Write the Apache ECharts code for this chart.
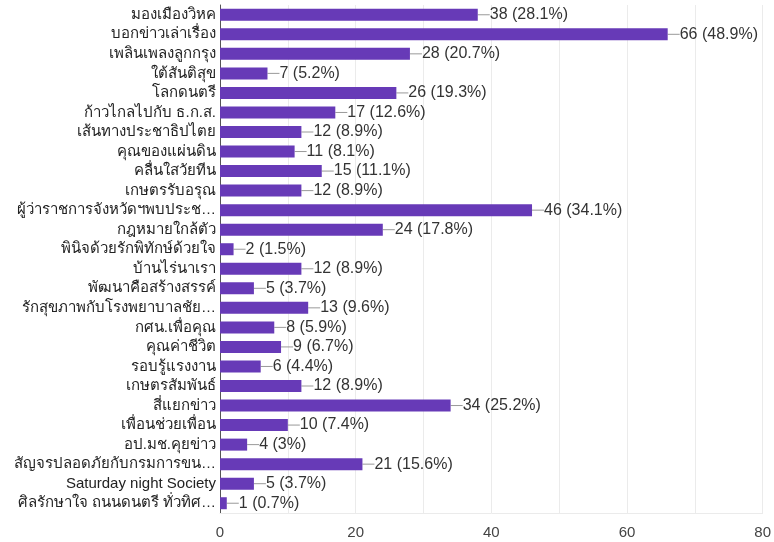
<!DOCTYPE html>
<html><head><meta charset="utf-8">
<script src="https://cdn.jsdelivr.net/npm/echarts@6/dist/echarts.min.js"></script>
<style>html,body{margin:0;padding:0;background:#fff}#c{width:774px;height:542px}</style>
</head><body><div id="c"></div>
<script>
const categories = ["มองเมืองวิหค","บอกข่าวเล่าเรื่อง","เพลินเพลงลูกกรุง","ใต้สันติสุข","โลกดนตรี","ก้าวไกลไปกับ ธ.ก.ส.","เส้นทางประชาธิปไตย","คุณของแผ่นดิน","คลื่นใสวัยทีน","เกษตรรับอรุณ","ผู้ว่าราชการจังหวัดฯพบประช…","กฎหมายใกล้ตัว","พินิจด้วยรักพิทักษ์ด้วยใจ","บ้านไร่นาเรา","พัฒนาคือสร้างสรรค์","รักสุขภาพกับโรงพยาบาลชัย…","กศน.เพื่อคุณ","คุณค่าชีวิต","รอบรู้แรงงาน","เกษตรสัมพันธ์","สี่แยกข่าว","เพื่อนช่วยเพื่อน","อป.มช.คุยข่าว","สัญจรปลอดภัยกับกรมการขน…","Saturday night Society","ศิลรักษาใจ ถนนดนตรี ทั่วทิศ…"];
const counts = [38,66,28,7,26,17,12,11,15,12,46,24,2,12,5,13,8,9,6,12,34,10,4,21,5,1];
const percents = ["28.1%","48.9%","20.7%","5.2%","19.3%","12.6%","8.9%","8.1%","11.1%","8.9%","34.1%","17.8%","1.5%","8.9%","3.7%","9.6%","5.9%","6.7%","4.4%","8.9%","25.2%","7.4%","3%","15.6%","3.7%","0.7%"];
const xTicks = [0,20,40,60,80];

const chart = echarts.init(document.getElementById('c'));
const FONT = 'Arial, "Liberation Sans", "Noto Sans", sans-serif';
chart.setOption({
  animation:false,
  grid:{left:220,right:8,top:5,bottom:29,containLabel:false},
  xAxis:{type:'value',min:0,max:80,interval:10,
    axisLine:{show:true,lineStyle:{color:'#ebebeb'}},axisTick:{show:false},
    splitLine:{lineStyle:{color:'#ebebeb'}},
    axisLabel:{color:'#444',fontSize:15,fontFamily:FONT,margin:12,
      formatter:v=>xTicks.includes(v)?String(v):''}},
  yAxis:{type:'category',data:categories,inverse:true,
    axisLine:{show:true,lineStyle:{color:'#555',width:1}},
    axisTick:{show:false},
    axisLabel:{color:'#222',fontSize:15,fontFamily:FONT,margin:4}},
  series:[{type:'bar',data:counts,barWidth:12,
    itemStyle:{color:'#673ab7'},
    label:{show:true,position:'right',distance:0,color:'#333',fontSize:16,fontFamily:FONT,
      formatter:p=>p.value+' ('+percents[p.dataIndex]+')'},
    labelLayout:{dx:12},
    labelLine:{show:true,length2:0,lineStyle:{color:'#999',width:1}}
  }]
});
</script></body></html>
